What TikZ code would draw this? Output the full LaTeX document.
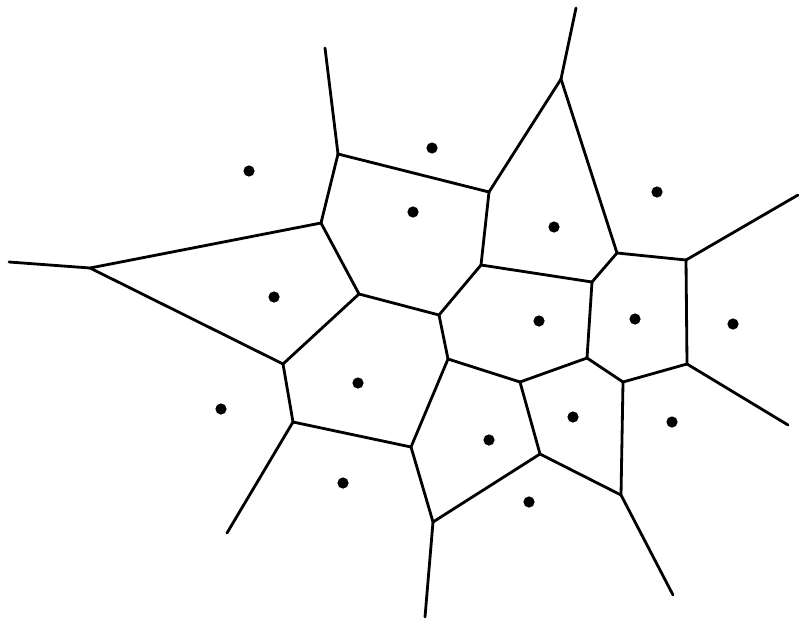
\documentclass[tikz,border=0pt]{standalone}
\usepackage{tikz}

\tikzset{
  edge/.style={line width=2pt,line cap=round,line join=round},
  site/.style={circle,fill=black,inner sep=0pt,minimum size=0.28cm}
}

\begin{document}
\begin{tikzpicture}[x=0.025cm,y=-0.025cm]
    \useasboundingbox (0,0) rectangle (799,618);
    % Voronoi vertices
    \coordinate (a) at (338,154);
    \coordinate (b) at (321,223);
    \coordinate (c) at (90,268);
    \coordinate (d) at (359,294);
    \coordinate (e) at (561,79);
    \coordinate (f) at (489,192);
    \coordinate (g) at (481,265);
    \coordinate (h) at (592,282);
    \coordinate (i) at (439,315);
    \coordinate (j) at (617,253);
    \coordinate (k) at (686,260);
    \coordinate (l) at (283,364);
    \coordinate (m) at (293,422);
    \coordinate (n) at (411,447);
    \coordinate (p) at (448,359);
    \coordinate (q) at (520,382);
    \coordinate (r) at (587,358);
    \coordinate (s) at (623,382);
    \coordinate (t) at (687,364);
    \coordinate (u) at (540,454);
    \coordinate (v) at (433,522);
    \coordinate (w) at (621,495);
    % Open ends of the unbounded edges
    \coordinate (top1)   at (325,48);
    \coordinate (top2)   at (576,8);
    \coordinate (left)   at (9,262);
    \coordinate (right1) at (798,195);
    \coordinate (right2) at (788,425);
    \coordinate (bot1)   at (227,533);
    \coordinate (bot2)   at (425,617);
    \coordinate (bot3)   at (673,595);
    % Edges
    \foreach \from/\to in {a/top1,a/b,a/f,b/c,b/d,c/left,c/l,d/l,d/i,
                           e/top2,e/f,e/j,f/g,g/h,g/i,h/j,h/r,j/k,k/right1,
                           k/t,i/p,p/q,p/n,l/m,m/n,m/bot1,n/v,v/bot2,v/u,
                           u/q,u/w,q/r,r/s,s/t,s/w,t/right2,w/bot3} {
        \draw[edge] (\from) -- (\to);
    }
    % Sites
    \foreach \name/\x/\y in {s1/249/171,s2/432/148,s3/413/212,s4/554/227,
                             s5/657/192,s6/274/297,s7/539/321,s8/635/319,
                             s9/733/324,s10/221/409,s11/358/383,s12/489/440,
                             s13/573/417,s14/672/422,s15/343/483,s16/529/502} {
        \node[site] (\name) at (\x,\y) {};
    }
\end{tikzpicture}
\end{document}
